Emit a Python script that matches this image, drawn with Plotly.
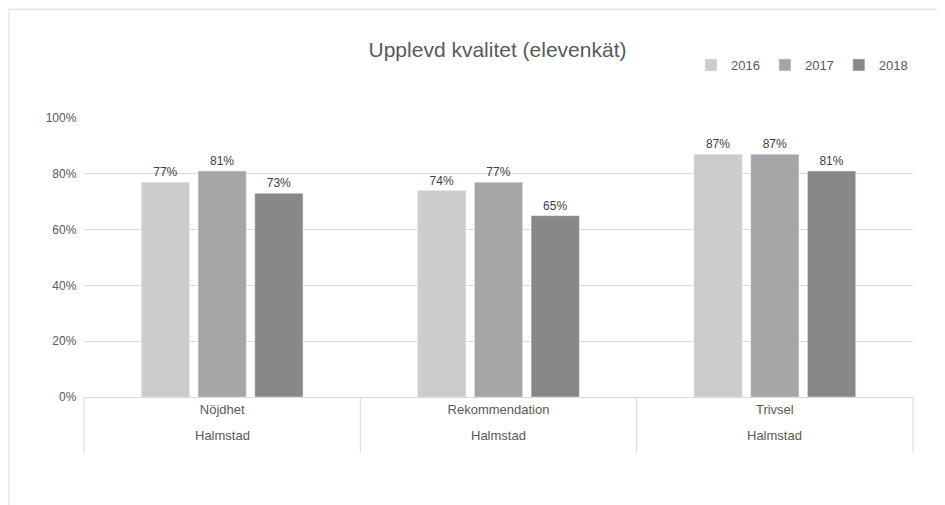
import plotly.graph_objects as go

categories = ["Nöjdhet", "Rekommendation", "Trivsel"]
group_label = "Halmstad"
years = ["2016", "2017", "2018"]
values = {
    "2016": [0.77, 0.74, 0.87],
    "2017": [0.81, 0.77, 0.87],
    "2018": [0.73, 0.65, 0.81],
}
colors = {"2016": "#cccccc", "2017": "#a5a5a5", "2018": "#888888"}

fig = go.Figure()
for y in years:
    fig.add_trace(go.Bar(
        x=categories, y=values[y], name=y, marker_color=colors[y],
        text=[f"{v:.0%}" for v in values[y]], textposition="outside",
        textfont=dict(size=12, color="#404040"), cliponaxis=False,
    ))

# second level category labels and separators
for c in categories:
    fig.add_annotation(x=c, y=-0.172, xref="x", yref="paper", text=group_label,
                       showarrow=False, font=dict(size=13, color="#595959"))
line = dict(color="#d9d9d9", width=1)
for xp in [0, 1 / 3, 2 / 3, 1]:
    fig.add_shape(type="line", xref="paper", yref="paper", x0=xp, x1=xp,
                  y0=0, y1=-0.2, line=line)
fig.add_shape(type="rect", xref="paper", yref="paper", x0=-0.0905, x1=1.046,
              y0=-0.41, y1=1.39, line=dict(color="#d9d9d9", width=1))

fig.update_layout(
    width=945, height=505,
    margin=dict(l=76, r=40, t=110, b=116, autoexpand=False),
    paper_bgcolor="white", plot_bgcolor="white",
    font=dict(family="Liberation Sans, Arial", color="#595959"),
    title=dict(text="Upplevd kvalitet (elevenkät)", x=0.518, xanchor="center",
               y=0.917, yanchor="middle", font=dict(size=21, color="#595959")),
    barmode="group", bargap=0.384, bargroupgap=0.15,
    legend=dict(orientation="h", x=1, xanchor="right", y=1.19, yanchor="middle",
                font=dict(size=13, color="#595959"), traceorder="normal"),
    xaxis=dict(showline=True, linecolor="#d9d9d9", tickfont=dict(size=13, color="#595959"),
               ticks=""),
    yaxis=dict(range=[0, 1], dtick=0.2, tickformat=".0%", gridcolor="#d9d9d9",
               zeroline=False, tickfont=dict(size=12, color="#595959"), ticksuffix="  "),
)
fig.write_html("out.html")
